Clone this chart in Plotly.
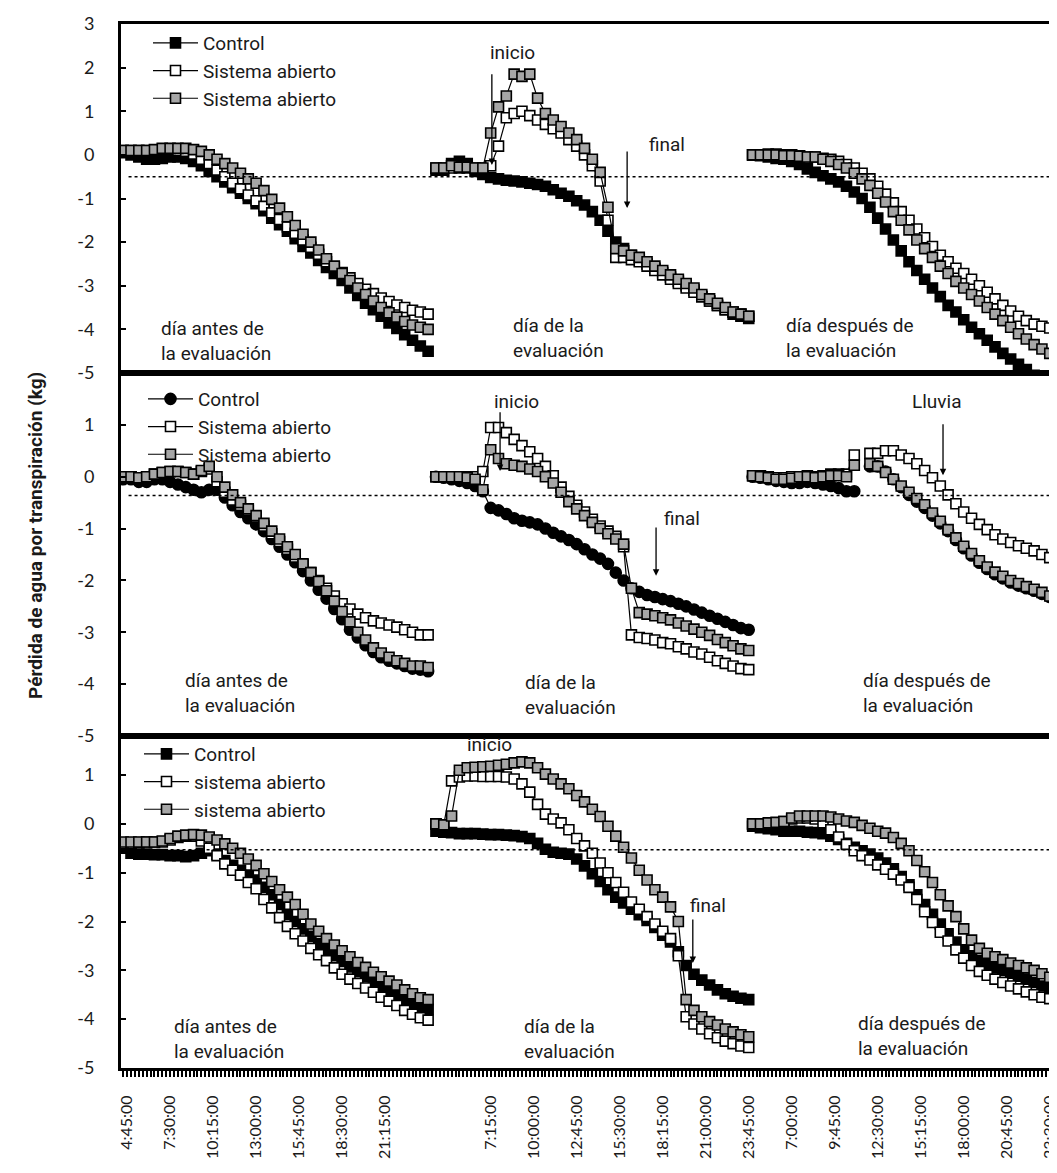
import plotly.graph_objects as go
from plotly.subplots import make_subplots

# ---- category positions (15-min record number of each sample) ----
X_D1 = list(range(-2, 77, 2))     # day before
X_D2 = list(range(78, 159, 2))    # evaluation day
X_D3 = list(range(159, 240, 2))   # day after

TICK_IDX = [0, 11, 22, 33, 44, 55, 66, 93, 104, 115, 126, 137, 148, 159,
            170, 181, 192, 203, 214, 225, 236]
TICK_TXT = ["4:45:00", "7:30:00", "10:15:00", "13:00:00", "15:45:00", "18:30:00", "21:15:00",
            "7:15:00", "10:00:00", "12:45:00", "15:30:00", "18:15:00", "21:00:00", "23:45:00",
            "7:00:00", "9:45:00", "12:30:00", "15:15:00", "18:00:00", "20:45:00", "23:30:00"]

# ---- panel 1 ----
P1_CTRL_D1 = [0.05, 0.0, -0.05, -0.1, -0.1, -0.08, -0.05, -0.05, -0.08, -0.15, -0.25, -0.38, -0.5, -0.62,
              -0.75, -0.88, -1.0, -1.12, -1.28, -1.45, -1.6, -1.75, -1.92, -2.1, -2.25, -2.42, -2.58, -2.72,
              -2.88, -3.05, -3.22, -3.4, -3.55, -3.7, -3.85, -3.98, -4.12, -4.25, -4.38, -4.5]
P1_WHITE_D1 = [0.1, 0.1, 0.1, 0.1, 0.1, 0.12, 0.12, 0.1, 0.08, 0.02, -0.1, -0.2, -0.35, -0.5, -0.65, -0.78,
               -0.92, -1.05, -1.18, -1.33, -1.48, -1.65, -1.8, -1.95, -2.12, -2.28, -2.45, -2.58, -2.7, -2.82,
               -2.95, -3.08, -3.18, -3.28, -3.36, -3.44, -3.5, -3.56, -3.6, -3.65]
P1_GRAY_D1 = [0.1, 0.1, 0.1, 0.1, 0.12, 0.15, 0.15, 0.15, 0.15, 0.12, 0.08, 0.0, -0.1, -0.2, -0.3, -0.42,
              -0.55, -0.65, -0.82, -1.02, -1.22, -1.42, -1.62, -1.82, -2.0, -2.18, -2.38, -2.55, -2.72, -2.88,
              -3.05, -3.2, -3.35, -3.5, -3.62, -3.72, -3.82, -3.9, -3.95, -4.0]
P1_CTRL_D2 = [-0.35, -0.35, -0.2, -0.15, -0.2, -0.38, -0.45, -0.52, -0.55, -0.58, -0.6, -0.62, -0.65, -0.68,
              -0.72, -0.8, -0.88, -0.95, -1.05, -1.15, -1.3, -1.5, -1.75, -2.0, -2.15, -2.3, -2.4, -2.5, -2.6,
              -2.7, -2.8, -2.9, -3.0, -3.1, -3.25, -3.35, -3.45, -3.55, -3.65, -3.7, -3.75]
P1_WHITE_D2 = [-0.3, -0.3, -0.3, -0.3, -0.3, -0.3, -0.3, -0.25, 0.2, 0.85, 0.95, 1.0, 0.9, 0.8, 0.7, 0.6,
               0.5, 0.35, 0.2, 0.0, -0.25, -0.6, -1.5, -2.35, -2.35, -2.4, -2.45, -2.55, -2.65, -2.75, -2.85,
               -2.95, -3.05, -3.15, -3.25, -3.35, -3.45, -3.55, -3.6, -3.65, -3.7]
P1_GRAY_D2 = [-0.3, -0.3, -0.25, -0.28, -0.28, -0.3, -0.3, 0.5, 1.1, 1.35, 1.85, 1.8, 1.85, 1.3, 0.95, 0.8,
              0.65, 0.5, 0.35, 0.15, -0.1, -0.4, -1.2, -2.15, -2.2, -2.3, -2.35, -2.45, -2.55, -2.65, -2.75,
              -2.85, -2.95, -3.05, -3.2, -3.3, -3.4, -3.5, -3.6, -3.65, -3.7]
P1_CTRL_D3 = [0.0, -0.02, -0.05, -0.08, -0.1, -0.15, -0.22, -0.32, -0.4, -0.48, -0.55, -0.62, -0.72, -0.85,
              -1.0, -1.2, -1.45, -1.7, -1.95, -2.2, -2.45, -2.65, -2.85, -3.05, -3.25, -3.45, -3.6, -3.78,
              -3.95, -4.1, -4.25, -4.4, -4.55, -4.68, -4.8, -4.92, -5.05, -5.15, -5.25, -5.35, -5.45]
P1_WHITE_D3 = [0.0, 0.0, 0.02, 0.02, 0.0, 0.0, -0.02, -0.05, -0.05, -0.08, -0.1, -0.15, -0.22, -0.3, -0.42,
               -0.55, -0.72, -0.9, -1.1, -1.3, -1.5, -1.7, -1.9, -2.1, -2.3, -2.45, -2.6, -2.72, -2.85, -3.0,
               -3.15, -3.3, -3.45, -3.58, -3.7, -3.8, -3.88, -3.93, -3.97, -4.0, -4.02]
P1_GRAY_D3 = [0.0, 0.0, 0.0, 0.0, -0.02, -0.02, -0.03, -0.05, -0.05, -0.1, -0.15, -0.22, -0.3, -0.42, -0.55,
              -0.7, -0.88, -1.08, -1.3, -1.5, -1.72, -1.95, -2.15, -2.35, -2.55, -2.72, -2.9, -3.05, -3.2,
              -3.35, -3.5, -3.65, -3.8, -3.95, -4.1, -4.22, -4.35, -4.45, -4.55, -4.6, -4.62]

# ---- panel 2 ----
P2_CTRL_D1 = [-0.05, -0.05, -0.1, -0.1, -0.05, -0.05, -0.1, -0.15, -0.2, -0.25, -0.3, -0.25, -0.25, -0.4,
              -0.55, -0.68, -0.8, -0.92, -1.05, -1.2, -1.35, -1.5, -1.65, -1.82, -2.0, -2.18, -2.35, -2.55,
              -2.75, -2.95, -3.1, -3.25, -3.38, -3.48, -3.55, -3.6, -3.65, -3.7, -3.72, -3.75]
P2_WHITE_D1 = [0.0, 0.0, -0.02, 0.0, 0.05, 0.08, 0.1, 0.1, 0.08, 0.05, 0.1, 0.15, -0.1, -0.3, -0.45, -0.55,
               -0.65, -0.78, -0.95, -1.1, -1.25, -1.4, -1.55, -1.7, -1.85, -2.0, -2.15, -2.3, -2.45, -2.55,
               -2.65, -2.72, -2.78, -2.82, -2.86, -2.9, -2.95, -3.0, -3.05, -3.05]
P2_GRAY_D1 = [0.0, 0.0, -0.02, 0.0, 0.05, 0.08, 0.1, 0.1, 0.08, 0.05, 0.12, 0.2, 0.0, -0.2, -0.35, -0.5,
              -0.62, -0.75, -0.9, -1.05, -1.2, -1.35, -1.5, -1.68, -1.85, -2.02, -2.2, -2.4, -2.6, -2.8, -3.0,
              -3.15, -3.3, -3.4, -3.48, -3.55, -3.6, -3.65, -3.65, -3.68]
P2_CTRL_D2 = [0.0, -0.02, -0.05, -0.08, -0.12, -0.18, -0.28, -0.6, -0.65, -0.72, -0.8, -0.85, -0.88, -0.92,
              -1.0, -1.08, -1.15, -1.22, -1.3, -1.4, -1.5, -1.58, -1.68, -1.85, -2.0, -2.15, -2.22, -2.28,
              -2.32, -2.36, -2.4, -2.45, -2.5, -2.56, -2.62, -2.68, -2.74, -2.8, -2.86, -2.92, -2.95]
P2_WHITE_D2 = [0.0, 0.0, 0.0, 0.0, 0.0, 0.0, 0.1, 0.95, 0.95, 0.85, 0.72, 0.6, 0.48, 0.35, 0.2, 0.02, -0.2,
               -0.38, -0.55, -0.68, -0.82, -0.95, -1.05, -1.15, -1.35, -3.05, -3.1, -3.12, -3.15, -3.2, -3.22,
               -3.28, -3.32, -3.38, -3.42, -3.48, -3.55, -3.6, -3.65, -3.7, -3.72]
P2_GRAY_D2 = [0.0, 0.0, 0.0, 0.0, -0.02, -0.05, -0.25, 0.52, 0.35, 0.25, 0.22, 0.2, 0.15, 0.1, 0.0, -0.12,
              -0.3, -0.48, -0.62, -0.75, -0.88, -1.0, -1.1, -1.2, -1.3, -2.15, -2.62, -2.65, -2.68, -2.72,
              -2.76, -2.82, -2.88, -2.94, -3.0, -3.06, -3.14, -3.2, -3.26, -3.32, -3.35]
P2_CTRL_D3 = [0.0, -0.02, -0.05, -0.08, -0.1, -0.12, -0.12, -0.1, -0.12, -0.15, -0.18, -0.22, -0.28, -0.28,
              None, 0.2, 0.2, 0.1, -0.05, -0.2, -0.35, -0.48, -0.6, -0.75, -0.9, -1.05, -1.22, -1.38, -1.52,
              -1.66, -1.78, -1.88, -1.96, -2.04, -2.1, -2.15, -2.2, -2.26, -2.32, -2.38, -2.42]
P2_WHITE_D3 = [0.02, 0.02, 0.0, -0.02, -0.02, 0.0, 0.0, 0.02, 0.0, 0.02, 0.05, 0.05, 0.05, 0.42, None, 0.45,
               0.45, 0.5, 0.5, 0.42, 0.35, 0.25, 0.12, -0.02, -0.18, -0.35, -0.52, -0.68, -0.8, -0.92, -1.02,
               -1.12, -1.2, -1.27, -1.33, -1.38, -1.43, -1.5, -1.56, -1.62, -1.66]
P2_GRAY_D3 = [0.02, 0.0, -0.02, -0.05, -0.05, -0.03, 0.0, 0.0, -0.02, 0.0, 0.02, 0.02, 0.0, 0.22, None, 0.25,
              0.2, 0.08, -0.05, -0.18, -0.3, -0.42, -0.54, -0.7, -0.86, -1.02, -1.18, -1.34, -1.48, -1.62,
              -1.74, -1.84, -1.92, -2.0, -2.06, -2.12, -2.17, -2.23, -2.3, -2.38, -2.42]

# ---- panel 3 ----
P3_CTRL_D1 = [-0.5, -0.6, -0.62, -0.62, -0.63, -0.63, -0.65, -0.65, -0.67, -0.65, -0.6, -0.55, -0.62, -0.75,
              -0.85, -0.95, -1.05, -1.15, -1.3, -1.45, -1.65, -1.85, -2.0, -2.15, -2.3, -2.45, -2.58, -2.7,
              -2.82, -2.93, -3.03, -3.13, -3.23, -3.33, -3.42, -3.5, -3.6, -3.68, -3.74, -3.8]
P3_WHITE_D1 = [-0.4, -0.4, -0.38, -0.37, -0.37, -0.37, -0.33, -0.28, -0.25, -0.25, -0.35, -0.5, -0.65, -0.82,
               -0.95, -1.05, -1.2, -1.33, -1.55, -1.72, -1.92, -2.1, -2.25, -2.4, -2.55, -2.68, -2.8, -2.95,
               -3.08, -3.18, -3.27, -3.36, -3.45, -3.55, -3.63, -3.72, -3.82, -3.9, -3.97, -4.02]
P3_GRAY_D1 = [-0.37, -0.37, -0.37, -0.37, -0.37, -0.35, -0.3, -0.25, -0.23, -0.22, -0.23, -0.27, -0.33, -0.41,
              -0.5, -0.6, -0.72, -0.85, -1.02, -1.18, -1.35, -1.5, -1.65, -1.85, -2.05, -2.2, -2.35, -2.48,
              -2.6, -2.72, -2.84, -2.94, -3.04, -3.13, -3.22, -3.3, -3.4, -3.48, -3.56, -3.6]
P3_CTRL_D2 = [-0.15, -0.17, -0.18, -0.2, -0.2, -0.2, -0.21, -0.22, -0.22, -0.23, -0.24, -0.26, -0.3, -0.4,
              -0.52, -0.58, -0.6, -0.62, -0.72, -0.86, -1.02, -1.18, -1.35, -1.5, -1.62, -1.75, -1.86, -1.98,
              -2.12, -2.28, -2.42, -2.62, -2.9, -3.08, -3.2, -3.3, -3.4, -3.48, -3.53, -3.57, -3.6]
P3_WHITE_D2 = [0.0, -0.02, 0.88, 0.96, 0.98, 0.98, 0.97, 0.97, 0.97, 0.96, 0.92, 0.82, 0.65, 0.4, 0.2, 0.1,
               0.02, -0.12, -0.3, -0.45, -0.6, -0.8, -1.0, -1.2, -1.4, -1.6, -1.75, -1.9, -2.05, -2.2, -2.35,
               -2.7, -3.95, -4.1, -4.2, -4.3, -4.38, -4.45, -4.5, -4.55, -4.58]
P3_GRAY_D2 = [0.0, -0.02, 0.16, 1.1, 1.15, 1.16, 1.17, 1.18, 1.2, 1.22, 1.25, 1.27, 1.25, 1.15, 1.02, 0.92,
              0.82, 0.72, 0.58, 0.45, 0.3, 0.15, -0.05, -0.25, -0.48, -0.7, -0.95, -1.15, -1.35, -1.5, -1.7,
              -2.0, -3.6, -3.82, -3.95, -4.05, -4.12, -4.2, -4.26, -4.32, -4.36]
P3_CTRL_D3 = [-0.05, -0.08, -0.1, -0.12, -0.15, -0.15, -0.15, -0.17, -0.18, -0.2, -0.25, -0.32, -0.4, -0.48,
              -0.55, -0.62, -0.7, -0.8, -0.92, -1.08, -1.25, -1.45, -1.65, -1.85, -2.05, -2.25, -2.42, -2.58,
              -2.7, -2.8, -2.88, -2.95, -3.0, -3.06, -3.12, -3.18, -3.25, -3.32, -3.38, -3.43, -3.48]
P3_WHITE_D3 = [0.0, 0.0, 0.0, 0.02, 0.05, 0.1, 0.12, 0.12, 0.1, 0.02, -0.12, -0.27, -0.42, -0.55, -0.65,
               -0.74, -0.84, -0.93, -1.03, -1.15, -1.3, -1.55, -1.8, -2.02, -2.22, -2.4, -2.58, -2.75, -2.9,
               -3.02, -3.1, -3.18, -3.25, -3.32, -3.38, -3.44, -3.5, -3.55, -3.58, -3.6, -3.62]
P3_GRAY_D3 = [0.0, 0.0, 0.02, 0.03, 0.05, 0.12, 0.16, 0.16, 0.16, 0.16, 0.14, 0.1, 0.06, 0.03, -0.03, -0.09,
              -0.15, -0.19, -0.28, -0.4, -0.55, -0.75, -0.98, -1.2, -1.45, -1.68, -1.9, -2.15, -2.38, -2.55,
              -2.65, -2.72, -2.78, -2.85, -2.9, -2.95, -3.0, -3.07, -3.14, -3.2, -3.24]

LEGEND_NAMES = [["Control", "Sistema abierto", "Sistema abierto"],
                ["Control", "Sistema abierto", "Sistema abierto"],
                ["Control", "sistema abierto", "sistema abierto"]]
Y_RANGES = [[-5, 3], [-5, 2], [-5, 1.8]]
Y_TICKS = [[-5, -4, -3, -2, -1, 0, 1, 2, 3], [-5, -4, -3, -2, -1, 0, 1], [-5, -4, -3, -2, -1, 0, 1]]
Y_TICK_TXT = [["-5", "-4", "-3", "-2", "-1", "0", "1", "2", "3"],
              ["-5", "-4", "-3", "-2", "-1", "0", "1"],
              ["-5", "-4", "-3", "-2", "-1", "0", "1"]]
REF_LINE = [-0.5, -0.36, -0.53]

PANELS = [
    (P1_CTRL_D1, P1_CTRL_D2, P1_CTRL_D3, P1_WHITE_D1, P1_WHITE_D2, P1_WHITE_D3, P1_GRAY_D1, P1_GRAY_D2, P1_GRAY_D3),
    (P2_CTRL_D1, P2_CTRL_D2, P2_CTRL_D3, P2_WHITE_D1, P2_WHITE_D2, P2_WHITE_D3, P2_GRAY_D1, P2_GRAY_D2, P2_GRAY_D3),
    (P3_CTRL_D1, P3_CTRL_D2, P3_CTRL_D3, P3_WHITE_D1, P3_WHITE_D2, P3_WHITE_D3, P3_GRAY_D1, P3_GRAY_D2, P3_GRAY_D3),
]

W, H = 1057, 1173
L, R, T, B = 113, 0, 16, 113
PLOT_H = H - T - B
# panel borders in pixels
BORDERS = [16, 365, 728, 1060]


def pfrac(px):
    return (H - B - px) / PLOT_H


fig = make_subplots(rows=3, cols=1, shared_xaxes=True, vertical_spacing=0)

XALL = X_D1 + [None] + X_D2 + [None] + X_D3
GRAY = "#a6a6a6"
for p, data in enumerate(PANELS):
    row = p + 1
    leg = "legend" if p == 0 else "legend%d" % (p + 1)
    c1, c2, c3, w1, w2, w3, g1, g2, g3 = data
    specs = [
        (c1 + [None] + c2 + [None] + c3, "circle" if p == 1 else "square", "black", 10 if p != 1 else 11),
        (w1 + [None] + w2 + [None] + w3, "square", "white", 10),
        (g1 + [None] + g2 + [None] + g3, "square", GRAY, 10),
    ]
    for k, (yv, sym, col, sz) in enumerate(specs):
        fig.add_trace(go.Scatter(
            x=XALL, y=yv, mode="lines+markers", name=LEGEND_NAMES[p][k], legend=leg,
            line=dict(color="black", width=1.2),
            marker=dict(symbol=sym, size=sz, color=col, line=dict(color="black", width=1.6)),
            connectgaps=False, showlegend=True), row=row, col=1)

XR = [-2.56, 238.9]
for p in range(3):
    row = p + 1
    top, bot = BORDERS[p], BORDERS[p + 1]
    yname = "yaxis" if p == 0 else "yaxis%d" % (p + 1)
    xname = "xaxis" if p == 0 else "xaxis%d" % (p + 1)
    fig.layout[yname].update(
        domain=[pfrac(bot), pfrac(top)], range=Y_RANGES[p], tickmode="array", tickvals=Y_TICKS[p],
        ticktext=Y_TICK_TXT[p],
        showgrid=False, zeroline=False, showline=True, linecolor="black", linewidth=3,
        ticks="inside", ticklen=5, tickwidth=2, tickcolor="black",
        tickfont=dict(family="Lato", size=18, color="#1a1a1a"), ticklabelstandoff=20)
    fig.layout[xname].update(
        range=XR, showgrid=False, zeroline=False, showline=True, linecolor="black", linewidth=3,
        mirror=True)
    fig.add_shape(type="line", xref="%s domain" % ("x" if p == 0 else "x%d" % row),
                  yref="y" if p == 0 else "y%d" % row, x0=0.008, x1=1, y0=REF_LINE[p], y1=REF_LINE[p],
                  line=dict(color="black", width=1.5, dash="dot"))

fig.layout.xaxis3.update(
    tickmode="array", tickvals=TICK_IDX, ticktext=TICK_TXT, tickangle=-90,
    tickfont=dict(family="Lato", size=16, color="#1a1a1a"), ticks="outside", ticklen=6, tickwidth=1.5,
    tickcolor="black", ticklabelstandoff=12, ticklabelshift=-4, showticklabels=True,
    minor=dict(ticks="outside", ticklen=6, tickwidth=1.5, tickcolor="black", tickmode="linear",
               tick0=0, dtick=1))
fig.layout.xaxis.update(showticklabels=False, ticks="")
fig.layout.xaxis2.update(showticklabels=False, ticks="")

TXT = dict(family="Roboto", size=19, color="#1a1a1a")


def note(text, x, y, p, **kw):
    fig.add_annotation(text=text, x=x, y=y, xref="x" if p == 0 else "x%d" % (p + 1),
                       yref="y" if p == 0 else "y%d" % (p + 1), showarrow=False, xanchor="left",
                       yanchor="middle", align="left", font=TXT, borderpad=0, **kw)


def arrow(x, y0, y1, p):
    xr = "x" if p == 0 else "x%d" % (p + 1)
    yr = "y" if p == 0 else "y%d" % (p + 1)
    fig.add_annotation(text="", x=x, y=y1, ax=x, ay=y0, xref=xr, yref=yr, axref=xr, ayref=yr,
                       showarrow=True, arrowhead=2, arrowsize=1, arrowwidth=1.3, arrowcolor="black")


# panel 1
note("día antes de<br>la evaluación", 7.5, -4.26, 0)
note("día de la<br>evaluación", 97.5, -4.2, 0)
note("día después de<br>la evaluación", 167.3, -4.2, 0)
note("inicio", 91.5, 2.34, 0)
arrow(92.3, 1.88, -0.23, 0)
note("final", 132.2, 0.23, 0)
arrow(126.9, 0.11, -1.22, 0)
# panel 2
note("día antes de<br>la evaluación", 13.5, -4.17, 1)
note("día de la<br>evaluación", 100.4, -4.21, 1)
note("día después de<br>la evaluación", 187, -4.17, 1)
note("inicio", 92.5, 1.46, 1)
arrow(94.4, 1.27, 0.11, 1)
note("final", 136, -0.8, 1)
arrow(134.3, -0.95, -1.91, 1)
note("Lluvia", 199.5, 1.46, 1)
arrow(207.7, 1.04, 0.03, 1)
# panel 3
note("día antes de<br>la evaluación", 10.7, -4.41, 2)
note("día de la<br>evaluación", 100.2, -4.41, 2)
note("día después de<br>la evaluación", 185.8, -4.34, 2)
note("inicio", 85.6, 1.62, 2)
note("final", 142.6, -1.68, 2)
arrow(143.7, -1.93, -2.85, 2)

fig.add_annotation(text="<b>Pérdida de agua por transpiración (kg)</b>", xref="paper", yref="paper",
                   x=(27 - L) / (W - L - R), y=pfrac(528), xanchor="center", yanchor="middle",
                   textangle=-90, showarrow=False,
                   font=dict(family="Roboto", size=19, color="#1a1a1a"))

LEG = dict(font=dict(family="Roboto", size=19, color="#1a1a1a"), bgcolor="rgba(0,0,0,0)",
           xanchor="left", yanchor="top", tracegroupgap=0, itemwidth=45)
fig.update_layout(
    width=W, height=H, margin=dict(l=L, r=R, t=T, b=B), plot_bgcolor="white", paper_bgcolor="white",
    legend=dict(LEG, x=(140 - L) / (W - L), y=pfrac(16)),
    legend2=dict(LEG, x=(135 - L) / (W - L), y=pfrac(372)),
    legend3=dict(LEG, x=(131 - L) / (W - L), y=pfrac(727)),
)

fig.write_html("out.html")
